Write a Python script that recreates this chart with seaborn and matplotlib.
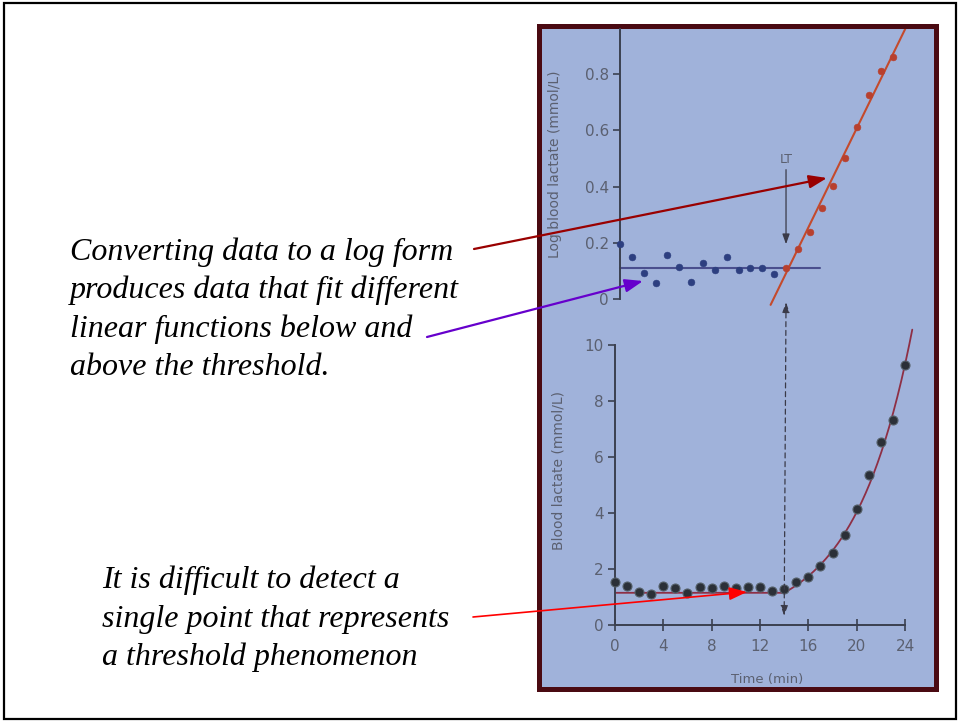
import numpy as np
import pandas as pd
import matplotlib
matplotlib.use("Agg")
import matplotlib.pyplot as plt
import seaborn as sns
from matplotlib.patches import Rectangle, FancyArrowPatch, ConnectionPatch

# ---------------- data ----------------
time_below = [0, 1, 2, 3, 4, 5, 6, 7, 8, 9, 10, 11, 12, 13]
log_below = [0.196, 0.148, 0.091, 0.058, 0.157, 0.113, 0.062, 0.129, 0.103, 0.148, 0.103, 0.111, 0.111, 0.088]
time_above = [14, 15, 16, 17, 18, 19, 20, 21, 22, 23]
log_above = [0.109, 0.177, 0.237, 0.325, 0.403, 0.503, 0.613, 0.726, 0.812, 0.862]

flat_fit_x = [0, 16.9]
flat_fit_y = [0.11, 0.11]
steep_fit_x = [12.7, 24.8]
steep_fit_y = [-0.021, 1.026]

time_min = list(range(0, 25))
lactate = [1.55, 1.40, 1.19, 1.11, 1.40, 1.33, 1.13, 1.37, 1.31, 1.40, 1.33, 1.37, 1.37, 1.23,
           1.27, 1.52, 1.73, 2.10, 2.58, 3.21, 4.13, 5.36, 6.55, 7.32, 9.29]

# fitted curve parameters (baseline, threshold, exponential rate)
base_level = 1.15
lt_time = 14
rate = 0.0908
curve_end = 24.6

x_ticks = [0, 4, 8, 12, 16, 20, 24]
y_ticks_bottom = [0, 2, 4, 6, 8, 10]
y_ticks_top = [0, 0.2, 0.4, 0.6, 0.8]

text_top = ["Converting data to a log form",
            "produces data that fit different",
            "linear functions below and",
            "above the threshold."]
text_bottom = ["It is difficult to detect a",
               "single point that represents",
               "a threshold phenomenon"]

# ---------------- style ----------------
sns.set_theme(style="ticks")
plt.rcParams['font.family'] = ['DejaVu Sans']

W, H = 960, 721
fig = plt.figure(figsize=(9.6, 7.21), dpi=100, facecolor="white")


def fx(px):
    return px / W


def fy(py):
    return (H - py) / H


# slide border
fig.add_artist(Rectangle((fx(4), fy(719)), fx(956) - fx(4), fy(3) - fy(719),
                         transform=fig.transFigure, facecolor="none",
                         edgecolor="black", lw=1.6, zorder=-3))
# image frame
fig.add_artist(Rectangle((fx(539), fy(689)), fx(936) - fx(539), fy(26) - fy(689),
                         transform=fig.transFigure, facecolor="#a0b2da",
                         edgecolor="#4a0a12", lw=3.6, zorder=-2))

spine_col = "#3b4050"
tick_col = "#5b6070"

# ---------------- top (log) axes ----------------
ax1 = fig.add_axes([fx(608.1), fy(313), fx(916.5) - fx(608.1), fy(29.2) - fy(313)])
ax1.set_facecolor("none")
ax1.set_xlim(-1, 25)
ax1.set_ylim(-0.05, 0.96)

sns.lineplot(x=flat_fit_x, y=flat_fit_y, ax=ax1, color="#4a4f8e", lw=1.5)
sns.lineplot(x=steep_fit_x, y=steep_fit_y, ax=ax1, color="#c44a2c", lw=1.5)
sns.scatterplot(x=time_below, y=log_below, ax=ax1, color="#2d3f80", s=24,
                edgecolor="#2d3f80", zorder=3)
sns.scatterplot(x=time_above, y=log_above, ax=ax1, color="#b8402e", s=24,
                edgecolor="#b8402e", zorder=3)

for s in ["top", "right", "bottom"]:
    ax1.spines[s].set_visible(False)
ax1.spines["left"].set_position(("data", 0))
ax1.spines["left"].set_bounds(0, 0.96)
ax1.spines["left"].set_color(spine_col)
ax1.spines["left"].set_linewidth(1.4)
ax1.set_xticks([])
ax1.set_yticks(y_ticks_top)
ax1.set_yticklabels(["0", "0.2", "0.4", "0.6", "0.8"])
ax1.tick_params(axis="y", length=5, width=1.2, color=spine_col, labelcolor=tick_col,
                labelsize=11, pad=3)
ax1.set_ylabel("Log blood lactate (mmol/L)", fontsize=10, color=tick_col)
ax1.yaxis.set_label_coords(-0.1495, 0.525)

# LT marker
ax1.annotate("", xy=(14, 0.185), xytext=(14, 0.47),
             arrowprops=dict(arrowstyle="-|>,head_length=0.5,head_width=0.18",
                             color="#3a3a48", lw=0.9, mutation_scale=12))
ax1.text(14, 0.495, "LT", ha="center", va="center", fontsize=9, color=tick_col)

# ---------------- bottom (lactate) axes ----------------
ax2 = fig.add_axes([fx(602.9), fy(625), fx(917.1) - fx(602.9), fy(325.4) - fy(625)])
ax2.set_facecolor("none")
ax2.set_xlim(-1, 25)
ax2.set_ylim(0, 10.7)

cx = np.linspace(0, curve_end, 300)
cy = np.where(cx <= lt_time, base_level, base_level * 10 ** (rate * (cx - lt_time)))
sns.lineplot(x=cx, y=cy, ax=ax2, color="#8e2f45", lw=1.3)
sns.scatterplot(x=time_min, y=lactate, ax=ax2, color="#2b3038", s=42,
                edgecolor="#55606a", linewidth=0.8, zorder=3)

for s in ["top", "right"]:
    ax2.spines[s].set_visible(False)
ax2.spines["left"].set_position(("data", 0))
ax2.spines["left"].set_bounds(0, 10)
ax2.spines["bottom"].set_bounds(0, 24)
for s in ["left", "bottom"]:
    ax2.spines[s].set_color(spine_col)
    ax2.spines[s].set_linewidth(1.4)
ax2.set_xticks(x_ticks)
ax2.set_yticks(y_ticks_bottom)
ax2.tick_params(axis="y", length=5, width=1.2, color=spine_col, labelcolor=tick_col,
                labelsize=11, pad=3)
ax2.tick_params(axis="x", direction="inout", length=8, width=1.2, color=spine_col,
                labelcolor=tick_col, labelsize=11, pad=6)
ax2.set_ylabel("Blood lactate (mmol/L)", fontsize=10, color=tick_col)
ax2.yaxis.set_label_coords(-0.1206, 0.517)
ax2.set_xlabel("Time (min)", fontsize=9.5, color=tick_col)
ax2.xaxis.set_label_coords(0.522, -0.160)

# dashed threshold connector between panels
con = ConnectionPatch(xyA=(14, -0.012), coordsA=ax1.transData,
                      xyB=(14, 0.33), coordsB=ax2.transData,
                      arrowstyle="<|-|>,head_length=0.5,head_width=0.18",
                      mutation_scale=12, color="#3a3a48", lw=0.9, linestyle=(0, (4, 3)))
con.set_zorder(4)
fig.add_artist(con)

# ---------------- slide text ----------------
tops = [260, 298, 337, 375]
for line, by in zip(text_top, tops):
    fig.text(fx(70), fy(by), line, family="Liberation Serif", style="italic",
             fontsize=23, va="baseline", ha="left", color="black")
bots = [588, 627, 665]
for line, by in zip(text_bottom, bots):
    fig.text(fx(102), fy(by), line, family="Liberation Serif", style="italic",
             fontsize=23, va="baseline", ha="left", color="black")

# ---------------- pointer arrows ----------------
def pointer(p0, p1, color, lw):
    arr = FancyArrowPatch((fx(p0[0]), fy(p0[1])), (fx(p1[0]), fy(p1[1])),
                          transform=fig.transFigure,
                          arrowstyle="-|>,head_length=0.6,head_width=0.22",
                          mutation_scale=18, color=color, lw=lw,
                          shrinkA=0, shrinkB=0, zorder=6)
    fig.add_artist(arr)


pointer((474, 249), (827, 178), "#990000", 1.6)
pointer((427, 337), (643, 281), "#6600cc", 1.6)
pointer((473, 617), (747, 592), "#ff0000", 1.2)

fig.savefig("out.png", dpi=100)
